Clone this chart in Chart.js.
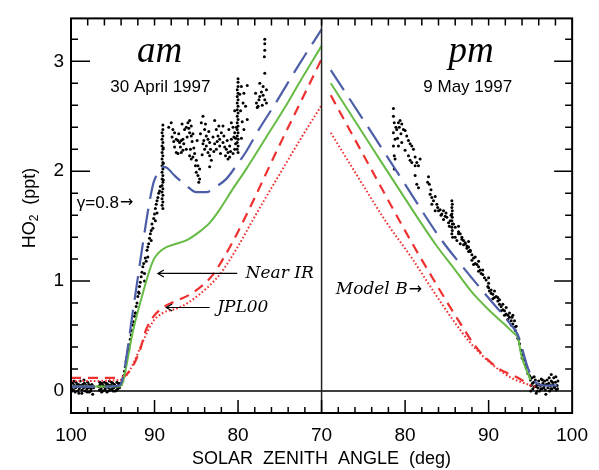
<!DOCTYPE html>
<html>
<head>
<meta charset="utf-8">
<script src="https://cdn.jsdelivr.net/npm/chart.js@4.4.1/dist/chart.umd.min.js"></script>
<style>
  body { margin: 0; background: #fff; }
  canvas { display: block; }
</style>
</head>
<body>
<canvas id="ho2Chart" width="599" height="470"></canvas>
<script>
// x ticks (solar zenith angle), am half runs 100 -> 70, pm half 70 -> 100
const xTickVals = [0, 10, 20, 30, 40, 50, 60];
const yTickVals = [0, 1, 2, 3];

// Model curves, [sza, HO2 ppt]
// am, 30 April 1997
const amGamma = [[100, 0.04], [96, 0.04], [94.2, 0.05], [93.8, 0.12], [92.6, 0.72], [91.4, 1.34], [90.6, 1.72],
  [90.1, 1.90], [89.5, 1.99], [89.0, 2.04], [88.5, 2.03], [87.6, 1.96], [86.2, 1.87], [85.0, 1.81], [83.8, 1.81],
  [82.6, 1.86], [81.4, 1.93], [80.3, 2.04], [79.1, 2.17], [77.5, 2.38], [75.5, 2.62], [72.7, 2.97], [70, 3.29]];
const amNearIR = [[100, 0.04], [96, 0.04], [94.2, 0.04], [93.8, 0.08], [92.6, 0.54], [91.4, 0.89], [90.2, 1.18],
  [89.0, 1.29], [87.4, 1.34], [86.2, 1.37], [84.6, 1.45], [83.4, 1.53], [82.2, 1.65], [80.7, 1.83], [79.1, 2.01],
  [76.7, 2.30], [74.0, 2.63], [72.7, 2.80], [70, 3.14]];
const amJPL00 = [[100, 0.12], [94.2, 0.12], [93.0, 0.18], [91.8, 0.36], [91.0, 0.56], [90.2, 0.67], [89.0, 0.76],
  [87.4, 0.82], [85.5, 0.89], [83.1, 1.05], [81.5, 1.24], [80.0, 1.45], [78.0, 1.76], [75.4, 2.18], [72.7, 2.60],
  [70, 3.02]];
const amModelB = [[100, 0.09], [94.2, 0.10], [93.4, 0.14], [92.6, 0.24], [91.4, 0.45], [90.2, 0.63], [89.0, 0.71],
  [87.0, 0.76], [84.6, 0.88], [82.2, 1.06], [79.9, 1.33], [78.5, 1.52], [76.6, 1.77], [74.5, 2.04], [72.7, 2.27],
  [70, 2.60]];

// pm, 9 May 1997
const pmGamma = [[71.1, 2.92], [76.0, 2.35], [80.0, 1.88], [84.3, 1.38], [87.0, 1.12], [89.5, 0.89], [92.7, 0.60],
  [93.5, 0.51], [94.7, 0.21], [95.5, 0.09], [96.5, 0.05], [98.3, 0.05]];
const pmNearIR = [[71.1, 2.80], [76.0, 2.22], [80.0, 1.75], [83.6, 1.34], [86.0, 1.10], [88.0, 0.90], [90.0, 0.74],
  [92.0, 0.60], [93.1, 0.52], [93.5, 0.49], [93.9, 0.33], [94.7, 0.16], [95.0, 0.10]];
const pmJPL00 = [[71.1, 2.69], [76.0, 2.01], [80.8, 1.35], [83.2, 1.04], [86.4, 0.64], [88.7, 0.38], [91.1, 0.21],
  [93.5, 0.12], [95.0, 0.05]];
const pmModelB = [[71.1, 2.35], [74.5, 1.93], [77.8, 1.53], [80.8, 1.21], [83.2, 0.93], [85.6, 0.66], [87.9, 0.43],
  [90.3, 0.25], [92.7, 0.12], [94.7, 0.06], [95.6, 0.04]];

// Observations, [sza, HO2 ppt]
const amBase = [[99.9, 0.03], [99.8, 0.07], [99.7, 0.01], [99.6, 0.05], [99.5, -0.01], [99.4, 0.08], [99.3, 0.04],
  [99.2, 0.0], [99.1, 0.06], [99.0, 0.02], [98.9, 0.09], [98.8, 0.04], [98.7, -0.02], [98.6, 0.06], [98.5, 0.03],
  [98.4, 0.07], [98.3, 0.0], [98.2, 0.05], [98.1, 0.02], [98.0, 0.08], [97.9, 0.03], [97.8, -0.01], [97.7, 0.05],
  [97.6, 0.02], [97.5, 0.06], [97.4, -0.03], [97.3, 0.03], [99.85, 0.0], [99.65, 0.09], [99.45, 0.03], [99.25, 0.06],
  [99.05, -0.02], [98.85, 0.05], [98.65, 0.01], [98.45, 0.1], [98.25, 0.04], [98.05, -0.01], [97.85, 0.06],
  [97.65, 0.0], [97.45, 0.05],
  [96.7, 0.04], [96.6, 0.01], [96.5, 0.06], [96.4, 0.02], [96.3, 0.07], [96.2, 0.0], [96.1, 0.04], [96.0, 0.08],
  [95.9, 0.02], [95.8, 0.05], [95.7, -0.01], [95.6, 0.06], [95.5, 0.03], [95.4, 0.09], [95.3, 0.01], [95.2, 0.05],
  [95.1, 0.02], [95.0, 0.07], [94.9, 0.03], [94.8, 0.06], [94.7, 0.0], [94.6, 0.04], [94.5, 0.08], [94.4, 0.02],
  [94.3, 0.05], [94.2, 0.03], [94.1, 0.07], [96.55, 0.08], [96.35, -0.01], [96.15, 0.05], [95.95, 0.01],
  [95.75, 0.07], [95.55, 0.0], [95.35, 0.05], [95.15, 0.08], [94.95, 0.0], [94.75, 0.04], [94.55, 0.01], [94.35, 0.07]];
const amRise = [[94.0, 0.06], [93.9, 0.1], [93.8, 0.09], [93.7, 0.14], [93.6, 0.18], [93.5, 0.22], [93.4, 0.27],
  [93.3, 0.31], [93.2, 0.36], [93.1, 0.38], [93.0, 0.42], [92.9, 0.47], [92.8, 0.51], [92.7, 0.55], [92.6, 0.6],
  [92.5, 0.63], [92.4, 0.68], [92.3, 0.71], [92.2, 0.77], [92.1, 0.8], [92.0, 0.86], [91.9, 0.9], [91.8, 0.95],
  [91.7, 0.99], [91.6, 1.04], [91.5, 1.08], [91.4, 1.13], [91.3, 1.16], [91.2, 1.07], [91.1, 1.21], [91.0, 1.18],
  [90.9, 1.28], [90.8, 1.31], [90.7, 1.34], [90.6, 1.39], [90.5, 1.43], [90.4, 1.37], [90.3, 1.52], [90.2, 1.48],
  [90.1, 1.57], [90.0, 1.61], [89.9, 1.66], [89.8, 1.70], [89.7, 1.73], [89.6, 1.76], [89.5, 1.80], [89.4, 1.82],
  [89.3, 1.86], [92.25, 0.71], [91.85, 0.89], [91.2, 1.0], [90.8, 1.22], [90.4, 1.46], [89.9, 1.55], [89.7, 1.62]];
const amColumn89 = [[89.0, 1.66], [89.1, 1.69], [89.0, 1.72], [89.1, 1.75], [89.0, 1.78], [89.1, 1.81], [89.0, 1.84],
  [89.1, 1.87], [89.0, 1.90], [89.1, 1.93], [89.0, 1.96], [89.1, 1.99], [89.0, 2.02], [89.1, 2.05], [89.0, 2.08],
  [89.1, 2.11], [89.0, 2.14], [89.1, 2.17], [89.0, 2.20], [89.1, 2.23], [89.0, 2.26], [89.1, 2.29], [89.0, 2.32],
  [89.1, 2.35], [89.0, 2.38], [89.0, 2.42], [88.95, 1.92], [88.95, 2.07], [88.95, 2.21]];
const amMid = [[88.0, 2.44], [87.8, 2.38], [87.6, 2.35], [87.9, 2.31], [87.4, 2.29], [87.2, 2.28], [87.0, 2.26],
  [86.8, 2.28], [86.6, 2.29], [86.4, 2.38], [86.2, 2.40], [86.0, 2.44], [85.8, 2.46], [85.6, 2.41], [85.8, 2.35],
  [85.6, 2.32], [85.4, 2.34], [87.6, 2.22], [87.4, 2.17], [87.2, 2.16], [86.8, 2.17], [86.6, 2.19], [86.2, 2.20],
  [85.8, 2.14], [85.6, 2.11], [85.4, 2.13], [85.2, 2.16], [85.0, 2.10], [84.8, 2.05], [84.6, 2.02], [85.0, 1.99],
  [84.8, 1.96], [84.6, 1.93], [84.7, 1.90], [84.2, 2.50], [84.4, 2.44], [84.0, 2.38], [83.8, 2.32], [83.6, 2.29],
  [83.4, 2.26], [83.8, 2.23], [84.2, 2.25], [84.0, 2.20], [83.6, 2.17], [83.4, 2.14], [83.2, 2.10], [83.4, 2.04],
  [82.8, 2.46], [82.6, 2.38], [82.4, 2.32], [82.2, 2.29], [82.0, 2.35], [81.8, 2.41], [82.2, 2.23], [82.6, 2.20],
  [82.8, 2.25], [81.8, 2.26], [81.6, 2.22], [81.4, 2.20], [81.2, 2.17], [81.0, 2.23], [80.8, 2.29], [81.0, 2.13],
  [81.2, 2.11], [80.6, 2.16], [80.4, 2.20], [80.3, 2.25], [80.4, 2.35], [80.6, 2.40], [80.8, 2.44],
  [88.3, 2.40], [87.7, 2.27], [87.1, 2.34], [86.9, 2.22], [86.5, 2.25], [86.1, 2.31], [85.9, 2.39], [85.5, 2.27],
  [85.3, 2.21], [85.1, 2.05], [84.9, 2.28], [84.5, 2.34], [84.3, 2.15], [83.9, 2.43], [83.5, 2.36], [83.3, 2.20],
  [83.0, 2.31], [82.5, 2.27], [82.3, 2.41], [82.1, 2.16], [81.7, 2.32], [81.5, 2.14], [81.3, 2.28], [81.1, 2.38],
  [80.9, 2.18], [80.5, 2.31], [86.7, 2.43], [85.7, 2.20], [84.1, 2.28], [82.9, 2.18]];
const amColumn80 = [[80.0, 2.17], [80.1, 2.20], [80.0, 2.23], [80.1, 2.26], [80.0, 2.29], [80.1, 2.32], [80.0, 2.35],
  [80.1, 2.38], [80.0, 2.41], [80.1, 2.44], [80.0, 2.47], [80.1, 2.50], [80.0, 2.53], [80.1, 2.56], [80.0, 2.59],
  [80.1, 2.62], [80.0, 2.65], [80.1, 2.68], [80.0, 2.71], [80.1, 2.74], [80.0, 2.77], [80.0, 2.81], [80.0, 2.84],
  [79.6, 2.30], [79.5, 2.45], [79.4, 2.62], [79.7, 2.55], [79.3, 2.38], [80.3, 2.30], [80.4, 2.55], [79.8, 2.70],
  [79.6, 2.77], [80.2, 2.40], [78.9, 2.78], [79.3, 2.71], [79.1, 2.59], [78.9, 2.47]];
const amHigh = [[77.8, 2.62], [77.6, 2.59], [77.4, 2.68], [77.2, 2.72], [77.0, 2.69], [76.8, 2.65], [77.0, 2.77],
  [76.6, 2.74], [76.6, 2.62], [77.4, 2.80], [77.9, 2.71], [77.5, 2.65], [77.1, 2.60], [77.7, 2.58],
  [76.8, 3.20], [76.8, 3.16], [76.8, 3.10], [76.85, 3.04], [76.8, 2.89]];

const pmHigh = [[78.6, 2.57], [78.6, 2.50], [78.7, 2.44], [78.6, 2.35], [78.8, 2.29], [78.6, 2.23], [78.7, 2.14],
  [78.8, 2.11], [78.7, 2.02], [79.0, 2.38], [79.2, 2.44], [79.4, 2.46], [79.6, 2.43], [79.8, 2.38], [80.0, 2.37],
  [80.2, 2.32], [80.4, 2.28], [80.6, 2.25], [80.8, 2.23], [81.0, 2.20], [80.0, 2.19], [80.4, 2.14], [80.6, 2.10],
  [80.8, 2.08], [81.2, 2.13], [81.4, 2.08], [81.6, 2.05], [81.2, 2.05], [81.8, 2.11], [81.2, 1.96], [81.6, 1.85],
  [81.4, 1.88], [79.2, 2.23], [79.6, 2.26], [79.3, 2.40], [79.5, 2.34], [79.1, 2.30], [78.9, 2.40]];
const pmMid = [[82.8, 1.95], [82.7, 1.90], [82.9, 1.88], [83.0, 1.79], [83.2, 1.76], [83.4, 1.73], [83.6, 1.77],
  [83.8, 1.70], [84.0, 1.64], [84.2, 1.65], [84.4, 1.61], [84.6, 1.64], [84.8, 1.59], [85.0, 1.58], [85.2, 1.53],
  [85.4, 1.55], [83.2, 1.70], [83.6, 1.64], [84.6, 1.56], [85.6, 1.73], [85.65, 1.70], [85.6, 1.67], [85.65, 1.64],
  [85.6, 1.61], [85.65, 1.58], [85.6, 1.55], [85.65, 1.52], [85.6, 1.49], [85.65, 1.46], [85.6, 1.43], [85.7, 1.40],
  [85.8, 1.52], [85.5, 1.60], [86.0, 1.49], [86.4, 1.50], [86.6, 1.43], [86.8, 1.40], [87.0, 1.37], [87.2, 1.35],
  [87.4, 1.32], [87.6, 1.31], [87.8, 1.28], [86.4, 1.43], [86.2, 1.37], [83.1, 1.83], [83.9, 1.67], [84.3, 1.60],
  [84.9, 1.62], [85.3, 1.50]];
const pmLow = [[86.0, 1.40], [86.4, 1.45], [86.8, 1.38], [87.0, 1.33], [87.2, 1.34], [87.4, 1.30], [87.6, 1.27],
  [87.8, 1.27], [88.0, 1.24], [88.0, 1.19], [88.2, 1.21], [88.4, 1.16], [88.6, 1.15], [88.8, 1.13], [88.8, 1.09],
  [89.0, 1.10], [89.1, 1.07], [89.3, 1.06], [89.5, 1.03], [89.7, 1.01], [90.0, 0.98], [90.0, 0.94], [90.1, 0.91],
  [90.3, 0.89], [90.5, 0.88], [90.7, 0.85], [90.9, 0.86], [91.1, 0.82], [91.3, 0.79], [91.5, 0.77], [91.7, 0.74],
  [91.9, 0.73], [92.1, 0.70], [92.3, 0.69], [92.5, 0.67], [92.7, 0.64], [92.9, 0.61], [93.1, 0.58], [93.2, 0.55],
  [93.4, 0.51], [93.5, 0.48], [93.7, 0.43], [93.9, 0.37], [94.1, 0.33], [94.2, 0.28], [94.4, 0.24], [94.5, 0.21],
  [94.7, 0.16], [94.9, 0.14], [90.3, 0.92], [90.7, 0.91], [91.1, 0.85], [91.7, 0.79], [92.1, 0.76], [92.5, 0.71],
  [92.9, 0.69], [93.1, 0.64], [88.8, 1.18], [89.3, 1.10], [90.0, 1.03], [88.4, 1.22], [87.6, 1.36], [86.6, 1.34],
  [91.3, 0.83], [91.9, 0.69], [92.7, 0.60], [93.3, 0.59], [93.6, 0.47], [94.0, 0.30], [88.2, 1.15], [89.9, 0.95],
  [90.5, 0.84], [91.5, 0.73], [92.3, 0.65], [92.8, 0.67]];
const pmBase = [[95.0, 0.10], [95.1, 0.05], [95.2, 0.12], [95.3, 0.02], [95.4, 0.08], [95.5, 0.04], [95.6, 0.1],
  [95.7, -0.02], [95.8, 0.06], [95.9, 0.03], [96.0, 0.09], [96.1, 0.0], [96.2, 0.05], [96.3, 0.11], [96.4, 0.02],
  [96.5, 0.07], [96.6, 0.03], [96.7, 0.09], [96.8, 0.01], [96.9, 0.06], [97.0, 0.1], [97.1, 0.03], [97.2, 0.07],
  [97.3, 0.0], [97.4, 0.05], [97.5, 0.09], [97.6, 0.02], [97.7, 0.06], [97.8, 0.12], [97.9, 0.03], [98.0, 0.08],
  [98.1, 0.01], [98.2, 0.05], [98.3, 0.09], [95.05, 0.0], [95.25, 0.07], [95.45, 0.13], [95.65, 0.04], [95.85, 0.0],
  [96.05, 0.06], [96.25, 0.02], [96.45, 0.1], [96.65, 0.05], [96.85, -0.03], [97.05, 0.06], [97.25, 0.12],
  [97.45, 0.02], [97.65, 0.08], [97.85, 0.04], [98.05, 0.13], [98.25, 0.02], [97.5, 0.15]];

// am: sza 100 -> 0 ... 70 -> 30 ; pm: 70 -> 30 ... 100 -> 60
const am = pts => pts.map(([s, v]) => ({ x: 100 - s, y: v }));
const pm = pts => pts.map(([s, v]) => ({ x: s - 40, y: v }));
const xLabel = u => (u <= 30 ? 100 - u : u + 40);

const BLUE = "#4c5ea8";
const GREEN = "#66bb44";
const RED = "#ef3030";

function curve(data, color, dash, width) {
  return {
    data: data,
    showLine: true,
    borderColor: color,
    borderWidth: width,
    borderDash: dash,
    pointRadius: 0,
    cubicInterpolationMode: "monotone",
    fill: false,
    order: 1,
  };
}

function dots(data) {
  return {
    data: data,
    showLine: false,
    pointRadius: 1.5,
    pointBorderWidth: 0,
    pointBackgroundColor: "#000",
    order: 5,
  };
}

const sansFont = '"Liberation Sans", "DejaVu Sans", Arial, sans-serif';
const serifFont = '"DejaVu Serif", "Liberation Serif", serif';

// Frame, inward ticks, reference lines and labels
const framePlugin = {
  id: "framePlugin",
  afterDatasetsDraw(chart) {
    const { ctx, chartArea: a, scales } = chart;
    const x = scales.x, y = scales.y;
    ctx.save();
    ctx.strokeStyle = "#000";

    // zero line
    ctx.lineWidth = 1.3;
    ctx.beginPath();
    ctx.moveTo(a.left, y.getPixelForValue(0));
    ctx.lineTo(a.right, y.getPixelForValue(0));
    ctx.stroke();

    // 70 deg divider
    ctx.strokeStyle = "#222";
    ctx.lineWidth = 1.5;
    ctx.beginPath();
    ctx.moveTo(x.getPixelForValue(30), a.top);
    ctx.lineTo(x.getPixelForValue(30), a.bottom);
    ctx.stroke();

    // ticks
    ctx.strokeStyle = "#000";
    ctx.lineWidth = 1.5;
    ctx.beginPath();
    for (let u = 2; u < 60; u += 2) {
      const px = x.getPixelForValue(u);
      const len = u % 10 === 0 ? 13 : 6;
      ctx.moveTo(px, a.bottom);
      ctx.lineTo(px, a.bottom - len);
      ctx.moveTo(px, a.top);
      ctx.lineTo(px, a.top + 7);
    }
    for (let i = 1; i <= 16; i++) {
      const v = i * 0.2;
      const py = y.getPixelForValue(v);
      const major = i % 5 === 0;
      ctx.moveTo(a.left, py);
      ctx.lineTo(a.left + (major ? 19 : 7), py);
      ctx.moveTo(a.right, py);
      ctx.lineTo(a.right - (major ? 18 : 7), py);
    }
    ctx.stroke();

    // frame
    ctx.lineWidth = 2;
    ctx.strokeRect(a.left, a.top, a.right - a.left, a.bottom - a.top);
    ctx.restore();
  },
  afterDraw(chart) {
    const { ctx, scales } = chart;
    const x = scales.x, y = scales.y;
    const X = u => x.getPixelForValue(u);
    const Y = v => y.getPixelForValue(v);
    ctx.save();
    ctx.fillStyle = "#000";
    ctx.strokeStyle = "#000";

    // axis titles
    ctx.font = "18px " + sansFont;
    ctx.textAlign = "center";
    ctx.textBaseline = "middle";
    ctx.fillText("SOLAR  ZENITH  ANGLE  (deg)", X(30), 459);

    ctx.save();
    ctx.translate(30, 208);
    ctx.rotate(-Math.PI / 2);
    ctx.textAlign = "left";
    ctx.font = "18px " + sansFont;
    const w1 = ctx.measureText("HO").width;
    const w3 = ctx.measureText("  (ppt)").width;
    ctx.font = "12px " + sansFont;
    const w2 = ctx.measureText("2").width;
    let sx = -(w1 + w2 + w3) / 2;
    ctx.font = "18px " + sansFont;
    ctx.fillText("HO", sx, 0);
    ctx.font = "12px " + sansFont;
    ctx.fillText("2", sx + w1, 5);
    ctx.font = "18px " + sansFont;
    ctx.fillText("  (ppt)", sx + w1 + w2, 0);
    ctx.restore();

    // panel labels
    ctx.textAlign = "center";
    ctx.font = 'italic 37px "Liberation Serif", serif';
    ctx.fillText("am", X(10.6), Y(3.08));
    ctx.fillText("pm", X(47.9), Y(3.08));
    ctx.font = "17px " + sansFont;
    ctx.fillText("30 April 1997", X(10.7), Y(2.76));
    ctx.fillText("9 May 1997", X(47.5), Y(2.76));

    // curve labels
    ctx.textAlign = "left";
    ctx.font = "17px " + sansFont;
    ctx.fillText("\u03B3=0.8", X(0.7), Y(1.71));
    const gw = ctx.measureText("\u03B3=0.8").width;
    ctx.font = 'italic 17px ' + serifFont;
    ctx.fillText("Near IR", X(20.9), Y(1.07));
    ctx.fillText("JPL00", X(17.5), Y(0.76));
    ctx.fillText("Model B", X(31.7), Y(0.92));
    const mw = ctx.measureText("Model B").width;
    ctx.font = '16px "DejaVu Sans", sans-serif';
    ctx.fillText("\u2192", X(0.7) + gw + 1, Y(1.71));
    ctx.fillText("\u2192", X(31.7) + mw + 1, Y(0.92));

    // left pointing arrows
    ctx.lineWidth = 1.2;
    const arrow = (u0, u1, v) => {
      const x0 = X(u0), x1 = X(u1), yy = Y(v);
      ctx.beginPath();
      ctx.moveTo(x1, yy);
      ctx.lineTo(x0, yy);
      ctx.moveTo(x0 + 6, yy - 3.5);
      ctx.lineTo(x0, yy);
      ctx.lineTo(x0 + 6, yy + 3.5);
      ctx.stroke();
    };
    arrow(10.4, 19.9, 1.07);
    arrow(11.4, 16.6, 0.76);
    ctx.restore();
  },
};

const ctxHo2 = document.getElementById("ho2Chart").getContext("2d");
const ho2Chart = new Chart(ctxHo2, {
  type: "scatter",
  data: {
    datasets: [
      curve(am(amGamma), BLUE, [24, 10], 2.2),
      curve(pm(pmGamma), BLUE, [24, 10], 2.2),
      curve(am(amNearIR), GREEN, [], 2),
      curve(pm(pmNearIR), GREEN, [], 2),
      curve(am(amJPL00), RED, [10, 7], 2.2),
      curve(pm(pmJPL00), RED, [10, 7], 2.2),
      curve(am(amModelB), RED, [1.6, 2.2], 2),
      curve(pm(pmModelB), RED, [1.6, 2.2], 2),
      dots(am(amBase)),
      dots(am(amRise)),
      dots(am(amColumn89)),
      dots(am(amMid)),
      dots(am(amColumn80)),
      dots(am(amHigh)),
      dots(pm(pmHigh)),
      dots(pm(pmMid)),
      dots(pm(pmLow)),
      dots(pm(pmBase)),
    ],
  },
  options: {
    responsive: false,
    animation: false,
    layout: { padding: { top: 10, right: 24, left: 0, bottom: 0 } },
    plugins: {
      legend: { display: false },
      tooltip: { enabled: false },
    },
    scales: {
      x: {
        type: "linear",
        min: 0,
        max: 60,
        grid: { display: false, drawTicks: false },
        border: { display: false },
        afterBuildTicks: (s) => { s.ticks = xTickVals.map((v) => ({ value: v })); },
        afterFit: (s) => { s.height = 57; },
        ticks: {
          padding: 11,
          color: "#000",
          maxRotation: 0,
          autoSkip: false,
          font: { family: sansFont, size: 19 },
          callback: (v) => xLabel(v),
        },
      },
      y: {
        type: "linear",
        min: -0.2,
        max: 3.39,
        grid: { display: false, drawTicks: false },
        border: { display: false },
        afterBuildTicks: (s) => { s.ticks = yTickVals.map((v) => ({ value: v })); },
        afterFit: (s) => { s.width = 71; },
        ticks: {
          padding: 7,
          color: "#000",
          font: { family: sansFont, size: 19 },
          callback: (v) => String(v),
        },
      },
    },
  },
  plugins: [framePlugin],
});
</script>
</body>
</html>
